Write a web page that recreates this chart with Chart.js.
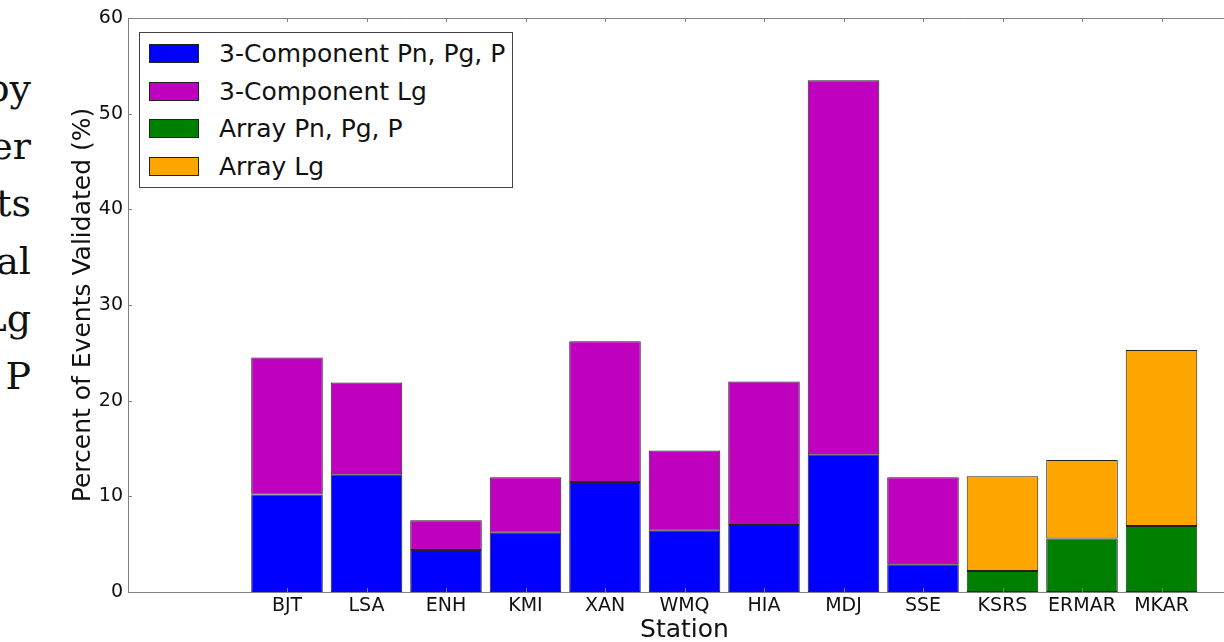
<!DOCTYPE html>
<html>
<head>
<meta charset="utf-8">
<script src="https://cdn.jsdelivr.net/npm/chart.js"></script>
<style>
  html, body { margin: 0; padding: 0; background: #fff; width: 1224px; height: 642px; overflow: hidden; }
  #wrap { position: absolute; left: 0; top: 0; width: 1260px; height: 642px; }
  #side {
    position: absolute; left: -120px; top: 60px; width: 151px;
    font-family: 'DejaVu Serif'; font-size: 38px; line-height: 57.6px;
    text-align: right; white-space: nowrap; color: #111;
  }
  #legend {
    position: absolute; left: 139px; top: 32px; width: 372px; height: 154px;
    border: 1px solid #444; background: #fff;
    font-family: 'DejaVu Sans'; font-size: 25px; color: #111;
  }
  .item { position: absolute; left: 9px; height: 19px; white-space: nowrap; }
  .sw { position: absolute; left: 0; top: 0; width: 48px; height: 17px; border: 1px solid #222; }
  .lab { position: absolute; left: 70px; top: 0; line-height: 19px; }
</style>
</head>
<body>
<div id="side">by<br>er<br>ts<br>al<br>Lg<br>P</div>
<div id="wrap"><canvas id="chart" width="1260" height="642"></canvas></div>
<div id="legend"></div>
<script>
const stations = ['BJT', 'LSA', 'ENH', 'KMI', 'XAN', 'WMQ', 'HIA', 'MDJ', 'SSE', 'KSRS', 'ERMAR', 'MKAR'];
const threeCompP  = [10.2, 12.3, 4.4, 6.2, 11.5, 6.4, 7.0, 14.4, 2.9, null, null, null];
const threeCompLg = [14.3, 9.6, 3.1, 5.8, 14.7, 8.4, 15.0, 39.1, 9.1, null, null, null];
const arrayP      = [null, null, null, null, null, null, null, null, null, 2.2, 5.6, 6.9];
const arrayLg     = [null, null, null, null, null, null, null, null, null, 9.9, 8.2, 18.4];
const yTicks = [0, 10, 20, 30, 40, 50, 60];

// empty slots so the axis runs from two bars left of BJT to one bar right of MKAR
const pad = arr => [null, null, ...arr, null];
const labels = ['', '', ...stations, ''];

const series = [
  { label: '3-Component Pn, Pg, P', data: threeCompP, color: '#0000ff' },
  { label: '3-Component Lg', data: threeCompLg, color: '#bf00bf' },
  { label: 'Array Pn, Pg, P', data: arrayP, color: '#008000' },
  { label: 'Array Lg', data: arrayLg, color: '#ffa500' },
];

const frame = {
  id: 'frame',
  afterDraw(chart) {
    const { ctx, chartArea: a, scales: { x, y } } = chart;
    ctx.save();
    ctx.strokeStyle = '#808080';
    ctx.lineWidth = 1;
    ctx.beginPath();
    ctx.rect(Math.round(a.left) + 0.5, Math.round(a.top) + 0.5, a.width, a.height);
    x.ticks.forEach((t, i) => {
      if (!t.label) return;
      const px = Math.round(x.getPixelForTick(i)) + 0.5;
      ctx.moveTo(px, a.bottom); ctx.lineTo(px, a.bottom - 4);
      ctx.moveTo(px, a.top); ctx.lineTo(px, a.top + 4);
    });
    yTicks.forEach(v => {
      const py = Math.round(y.getPixelForValue(v)) + 0.5;
      ctx.moveTo(a.left, py); ctx.lineTo(a.left + 4, py);
      ctx.moveTo(a.right, py); ctx.lineTo(a.right - 4, py);
    });
    ctx.stroke();
    ctx.restore();
  }
};

const chart = new Chart(document.getElementById('chart'), {
  type: 'bar',
  data: {
    labels,
    datasets: series.map(s => ({
      label: s.label,
      data: pad(s.data),
      backgroundColor: s.color,
      borderColor: '#222',
      borderWidth: 1,
      borderSkipped: false,
      categoryPercentage: 1,
      barPercentage: 0.9,
    })),
  },
  options: {
    responsive: false,
    animation: false,
    layout: { padding: { left: 68, top: 18, right: 19, bottom: 0 } },
    plugins: { legend: { display: false }, tooltip: { enabled: false } },
    scales: {
      x: {
        stacked: true,
        offset: false,
        grid: { display: false, drawTicks: false },
        border: { display: false },
        ticks: { autoSkip: false, maxRotation: 0, padding: 3, color: '#111', font: { family: 'DejaVu Sans', size: 19 } },
        title: { display: true, text: 'Station', color: '#111', padding: 0, font: { family: 'DejaVu Sans', size: 25, lineHeight: 0.9 } },
        afterFit(scale) { scale.height = 50; },
      },
      y: {
        stacked: true,
        min: 0,
        max: 60,
        grid: { display: false, drawTicks: false },
        border: { display: false },
        ticks: { stepSize: 10, padding: 5, color: '#111', font: { family: 'DejaVu Sans', size: 19 } },
        title: { display: true, text: 'Percent of Events Validated (%)', color: '#111', padding: 0, font: { family: 'DejaVu Sans', size: 25 } },
        afterFit(scale) { scale.width = 60; },
      },
    },
  },
  plugins: [frame],
});

const legend = document.getElementById('legend');
const rowTops = [11, 49, 86, 124];
series.forEach((s, i) => {
  const item = document.createElement('div');
  item.className = 'item';
  item.style.top = rowTops[i] + 'px';
  item.innerHTML = '<div class="sw" style="background:' + s.color + '"></div><div class="lab">' + s.label + '</div>';
  legend.appendChild(item);
});
</script>
</body>
</html>
